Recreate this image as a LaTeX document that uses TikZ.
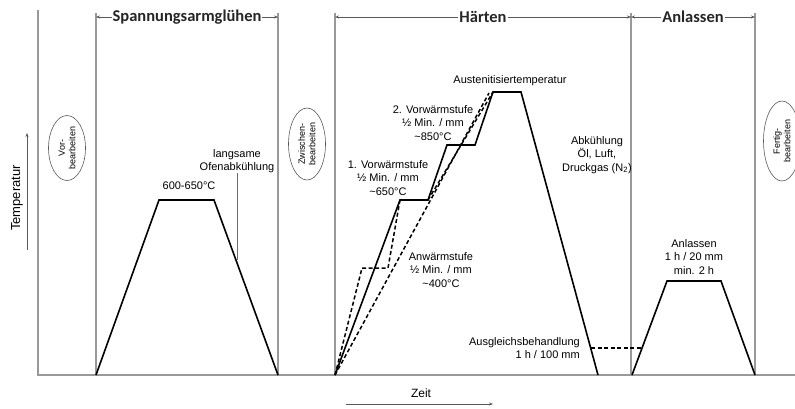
\documentclass[tikz,border=0pt]{standalone}
\usepackage{fontspec}
\setmainfont{Liberation Sans}
\newfontfamily\kopf{Carlito}[BoldFont={Carlito Bold}]
\usetikzlibrary{arrows.meta,shapes.geometric}
\definecolor{rahmen}{gray}{0.6}
\definecolor{pfeilgrau}{gray}{0.35}

\tikzset{
  kurve/.style={line width=1.6pt},
  strich/.style={line width=1.5pt,dash pattern=on 4pt off 2.5pt},
  achse/.style={rahmen,line width=1.2pt},
  kopfpfeil/.style={pfeilgrau,line width=0.6pt,{Stealth[length=4pt]}-{Stealth[length=4pt]}},
  titel/.style={fill=white,inner xsep=1pt,inner ysep=0pt,text=black!85,font=\kopf\bfseries\fontsize{16.5}{16.5}\selectfont},
  klein/.style={align=center,inner sep=0pt,font=\fontsize{11}{13.5}\selectfont},
  schritt/.style={ellipse,draw=black!65,line width=0.6pt,rotate=90,align=center,inner sep=0pt,
    minimum height=37pt,font=\fontsize{9}{10.5}\selectfont}
}

\begin{document}
\begin{tikzpicture}[x=1pt,y=-1pt]
  \useasboundingbox (0,0) rectangle (795,408);

  % Rahmen
  \draw[achse] (38,10) -- (38,375) -- (795,375);
  \foreach \xx in {96,278,335,631,755}
    \draw[achse] (\xx,13) -- (\xx,375);

  % Abschnitte
  \coordinate (s1) at (96,17);
  \coordinate (s2) at (278,17);
  \coordinate (h1) at (335,17);
  \coordinate (h2) at (631,17);
  \coordinate (a2) at (755,17);
  \draw[kopfpfeil] (s1) -- node[titel] (tSpg) {Spannungsarmglühen} (s2);
  \draw[kopfpfeil] (h1) -- node[titel] (tHae) {Härten} (h2);
  \draw[kopfpfeil] (h2) -- node[titel] (tAnl) {Anlassen} (a2);

  % Achsen
  \coordinate (tU) at (27,250);
  \coordinate (tO) at (27,133);
  \draw[pfeilgrau,line width=0.6pt,-{Stealth[length=4pt]}] (tU) -- (tO);
  \node[klein,rotate=90,font=\fontsize{13}{15}\selectfont] (temp) at (17,198) {Temperatur};
  \coordinate (zL) at (346,404);
  \coordinate (zR) at (493,404);
  \draw[pfeilgrau,line width=0.6pt,-{Stealth[length=4pt]}] (zL) -- (zR);
  \node[klein,font=\fontsize{12}{14}\selectfont] (zeit) at (421,393) {Zeit};

  % Bearbeitung
  \node[schritt,minimum width=65pt] (vor) at (67,148) {Vor-\\bearbeiten};
  \node[schritt,minimum width=72pt] (zw) at (307,144) {Zwischen-\\bearbeiten};
  \node[schritt,minimum width=80pt] (fertig) at (782,141) {Fertig-\\bearbeiten};

  % Spannungsarmgluehen
  \draw[kurve] (96,375) -- (159,200) -- (214,200) -- (278,375);
  \node[klein] (spgT) at (189,186) {600-650°C};
  \node[klein] (ofen) at (237,161) {langsame\\Ofenabkühlung};
  \coordinate (ofenP) at (237,260);
  \draw[rahmen!70!black,line width=0.8pt] (ofen.south) -- (ofenP);

  % Haerten
  \draw[kurve] (335,375) -- (400,200) -- (428,200) -- (447,145) -- (475,145)
    -- (493,92) -- (521,92) -- (598,375);
  \draw[strich] (335,375) -- (362,268) -- (388,268) -- (400,200);
  \draw[strich] (335,375) -- (489,93);
  \draw[strich] (428,200) -- (493,92);
  \node[klein] (aust) at (510,81) {Austenitisiertemperatur};
  \node[klein] (vw2) at (433,123) {2. Vorwärmstufe\\½ Min. / mm\\\textasciitilde 850°C};
  \node[klein] (vw1) at (388,178) {1. Vorwärmstufe\\½ Min. / mm\\\textasciitilde 650°C};
  \node[klein] (anw) at (441,270) {Anwärmstufe\\½ Min. / mm\\\textasciitilde 400°C};
  \node[klein] (abk) at (597,155) {Abkühlung\\Öl, Luft,\\Druckgas (N\textsubscript{2})};
  \node[klein,align=right,anchor=east] (ausgl) at (580,348) {Ausgleichsbehandlung\\1 h / 100 mm};

  % Anlassen
  \draw[kurve] (632,375) -- (667,281) -- (721,281) -- (755,375);
  \draw[strich] (591,348) -- (642,348);
  \node[klein] (anlT) at (694,257) {Anlassen\\1 h / 20 mm\\min. 2 h};
\end{tikzpicture}
\end{document}
